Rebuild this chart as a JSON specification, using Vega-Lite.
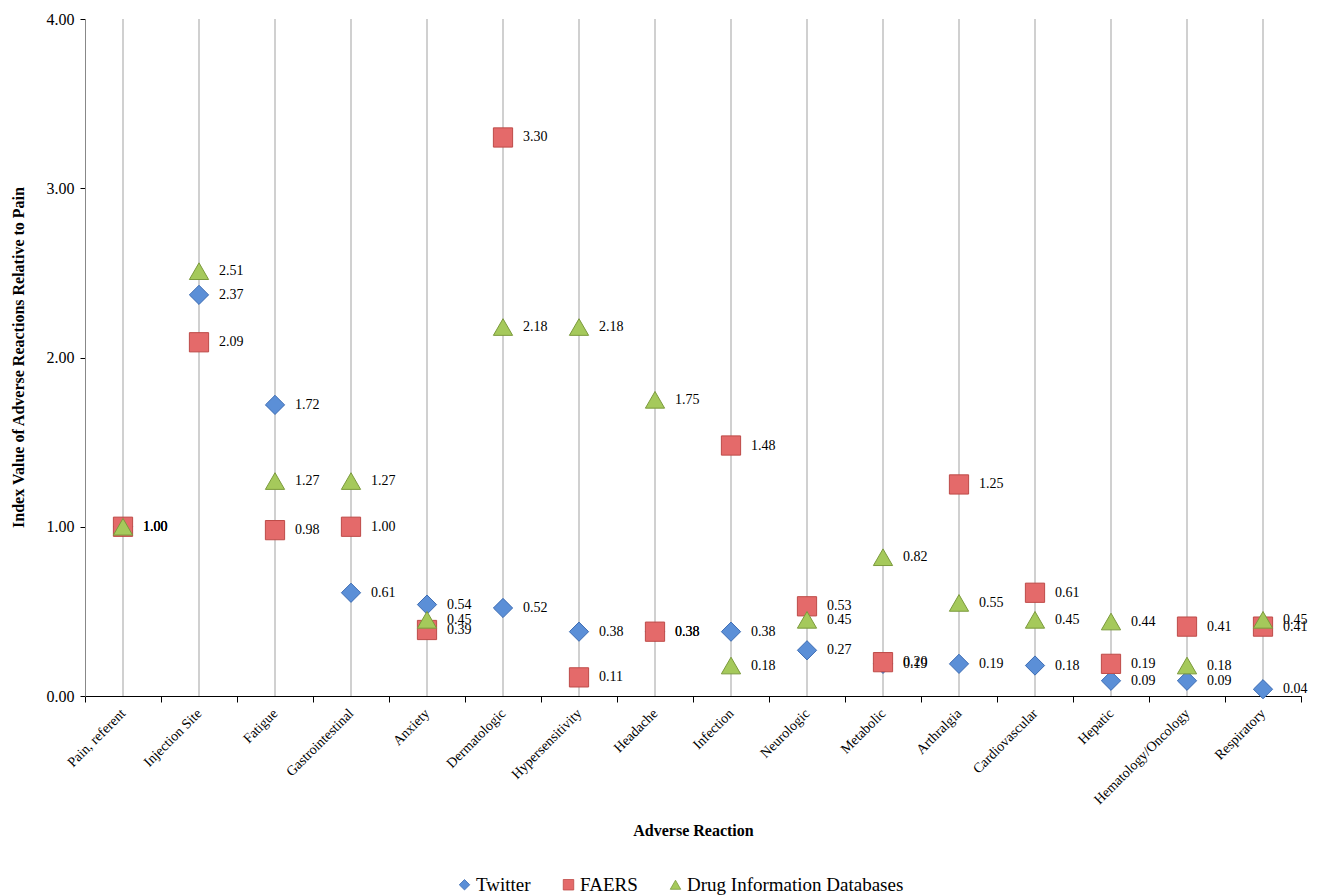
{
  "$schema": "https://vega.github.io/schema/vega-lite/v6.json",
  "width": 1216,
  "height": 677,
  "autosize": {"type": "none"},
  "padding": {"left": 85, "top": 19, "right": 19, "bottom": 200},
  "background": "white",
  "config": {
    "font": "Liberation Serif",
    "view": {"stroke": null},
    "axis": {"domainColor": "#000000", "tickColor": "#000000", "labelColor": "#000000", "titleColor": "#000000"},
    "legend": {"symbolSize": 110, "labelLimit": 0}
  },
  "data": {
    "values": [
      {"reaction": "Pain, referent", "source": "Twitter", "value": 1.00},
      {"reaction": "Injection Site", "source": "Twitter", "value": 2.37},
      {"reaction": "Fatigue", "source": "Twitter", "value": 1.72},
      {"reaction": "Gastrointestinal", "source": "Twitter", "value": 0.61},
      {"reaction": "Anxiety", "source": "Twitter", "value": 0.54},
      {"reaction": "Dermatologic", "source": "Twitter", "value": 0.52},
      {"reaction": "Hypersensitivity", "source": "Twitter", "value": 0.38},
      {"reaction": "Headache", "source": "Twitter", "value": 0.38},
      {"reaction": "Infection", "source": "Twitter", "value": 0.38},
      {"reaction": "Neurologic", "source": "Twitter", "value": 0.27},
      {"reaction": "Metabolic", "source": "Twitter", "value": 0.19},
      {"reaction": "Arthralgia", "source": "Twitter", "value": 0.19},
      {"reaction": "Cardiovascular", "source": "Twitter", "value": 0.18},
      {"reaction": "Hepatic", "source": "Twitter", "value": 0.09},
      {"reaction": "Hematology/Oncology", "source": "Twitter", "value": 0.09},
      {"reaction": "Respiratory", "source": "Twitter", "value": 0.04},
      {"reaction": "Pain, referent", "source": "FAERS", "value": 1.00},
      {"reaction": "Injection Site", "source": "FAERS", "value": 2.09},
      {"reaction": "Fatigue", "source": "FAERS", "value": 0.98},
      {"reaction": "Gastrointestinal", "source": "FAERS", "value": 1.00},
      {"reaction": "Anxiety", "source": "FAERS", "value": 0.39},
      {"reaction": "Dermatologic", "source": "FAERS", "value": 3.30},
      {"reaction": "Hypersensitivity", "source": "FAERS", "value": 0.11},
      {"reaction": "Headache", "source": "FAERS", "value": 0.38},
      {"reaction": "Infection", "source": "FAERS", "value": 1.48},
      {"reaction": "Neurologic", "source": "FAERS", "value": 0.53},
      {"reaction": "Metabolic", "source": "FAERS", "value": 0.20},
      {"reaction": "Arthralgia", "source": "FAERS", "value": 1.25},
      {"reaction": "Cardiovascular", "source": "FAERS", "value": 0.61},
      {"reaction": "Hepatic", "source": "FAERS", "value": 0.19},
      {"reaction": "Hematology/Oncology", "source": "FAERS", "value": 0.41},
      {"reaction": "Respiratory", "source": "FAERS", "value": 0.41},
      {"reaction": "Pain, referent", "source": "Drug Information Databases", "value": 1.00},
      {"reaction": "Injection Site", "source": "Drug Information Databases", "value": 2.51},
      {"reaction": "Fatigue", "source": "Drug Information Databases", "value": 1.27},
      {"reaction": "Gastrointestinal", "source": "Drug Information Databases", "value": 1.27},
      {"reaction": "Anxiety", "source": "Drug Information Databases", "value": 0.45},
      {"reaction": "Dermatologic", "source": "Drug Information Databases", "value": 2.18},
      {"reaction": "Hypersensitivity", "source": "Drug Information Databases", "value": 2.18},
      {"reaction": "Headache", "source": "Drug Information Databases", "value": 1.75},
      {"reaction": "Infection", "source": "Drug Information Databases", "value": 0.18},
      {"reaction": "Neurologic", "source": "Drug Information Databases", "value": 0.45},
      {"reaction": "Metabolic", "source": "Drug Information Databases", "value": 0.82},
      {"reaction": "Arthralgia", "source": "Drug Information Databases", "value": 0.55},
      {"reaction": "Cardiovascular", "source": "Drug Information Databases", "value": 0.45},
      {"reaction": "Hepatic", "source": "Drug Information Databases", "value": 0.44},
      {"reaction": "Hematology/Oncology", "source": "Drug Information Databases", "value": 0.18},
      {"reaction": "Respiratory", "source": "Drug Information Databases", "value": 0.45}
    ]
  },
  "encoding": {
    "x": {
      "field": "reaction",
      "type": "nominal",
      "scale": {
        "type": "band",
        "paddingInner": 0,
        "paddingOuter": 0,
        "domain": ["Pain, referent", "Injection Site", "Fatigue", "Gastrointestinal", "Anxiety", "Dermatologic", "Hypersensitivity", "Headache", "Infection", "Neurologic", "Metabolic", "Arthralgia", "Cardiovascular", "Hepatic", "Hematology/Oncology", "Respiratory"]
      },
      "axis": {
        "title": "Adverse Reaction",
        "titleFontSize": 16,
        "titleFontWeight": "bold",
        "titleY": 134,
        "titleBaseline": "middle",
        "labelAngle": -45,
        "labelAlign": "right",
        "labelBaseline": "middle",
        "labelFontSize": 14,
        "labelPadding": 9,
        "labelLimit": 0,
        "tickBand": "extent",
        "tickSize": 6,
        "grid": false,
        "domainWidth": 1.2
      }
    },
    "y": {
      "field": "value",
      "type": "quantitative",
      "scale": {"domain": [0, 4], "nice": false},
      "axis": {
        "title": "Index Value of Adverse Reactions Relative to Pain",
        "titleFontSize": 16,
        "titleFontWeight": "bold",
        "titleX": -67,
        "titleY": 338,
        "titleAngle": -90,
        "titleBaseline": "middle",
        "values": [0, 1, 2, 3, 4],
        "format": ".2f",
        "labelFontSize": 16,
        "labelPadding": 6,
        "tickSize": 5,
        "grid": false,
        "domainColor": "#888888"
      }
    }
  },
  "layer": [
    {
      "transform": [{"filter": "datum.source === 'Twitter'"}],
      "mark": {"type": "rule", "color": "#c0c0c0", "strokeWidth": 1.5},
      "encoding": {
        "y": {"datum": 0},
        "y2": {"datum": 4}
      }
    },
    {
      "mark": {"type": "point", "filled": true, "opacity": 1, "strokeWidth": 1, "size": 370},
      "encoding": {
        "shape": {
          "field": "source",
          "type": "nominal",
          "scale": {"domain": ["Twitter", "FAERS", "Drug Information Databases"], "range": ["diamond", "square", "triangle-up"]},
          "legend": {
            "title": null,
            "orient": "none",
            "legendX": 370,
            "legendY": 856,
            "direction": "horizontal",
            "labelFontSize": 19,
            "symbolSize": 110,
            "columnPadding": 28,
            "labelOffset": 2,
            "labelLimit": 0,
            "symbolStrokeWidth": 0.8
          }
        },
        "color": {
          "field": "source",
          "type": "nominal",
          "scale": {"domain": ["Twitter", "FAERS", "Drug Information Databases"], "range": ["#5b8fd7", "#e46a6a", "#a5c95b"]},
          "legend": {
            "title": null,
            "orient": "none",
            "legendX": 370,
            "legendY": 856,
            "direction": "horizontal",
            "labelFontSize": 19,
            "symbolSize": 110,
            "columnPadding": 28,
            "labelOffset": 2,
            "labelLimit": 0,
            "symbolStrokeWidth": 0.8
          }
        },
        "stroke": {
          "field": "source",
          "type": "nominal",
          "scale": {"domain": ["Twitter", "FAERS", "Drug Information Databases"], "range": ["#3d6cb3", "#be4b48", "#7b9a3c"]},
          "legend": null
        }
      }
    },
    {
      "mark": {"type": "text", "align": "left", "baseline": "middle", "dx": 20, "fontSize": 14, "color": "#000000"},
      "encoding": {
        "text": {"field": "value", "type": "quantitative", "format": ".2f"}
      }
    }
  ]
}
